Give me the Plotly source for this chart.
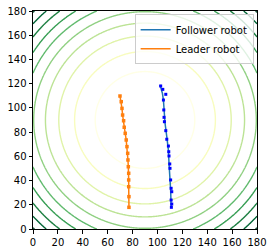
import numpy as np
import plotly.graph_objects as go

# Field: quadratic bowl centred on the target point
center_x = 90
center_y = 90
level_start = 1600
level_step = 1600
level_end = 16000

# Leader robot trajectory
leader_x = [69.9, 70.9, 71.5, 72.0, 72.8, 73.3, 74.1, 74.9, 75.5, 76.1, 76.3, 76.6, 76.9, 76.9, 76.9, 77.1, 77.1]
leader_y = [109.8, 105.1, 99.6, 94.1, 89.4, 84.0, 79.0, 73.5, 68.0, 62.5, 57.0, 51.4, 46.0, 40.5, 34.9, 26.7, 17.9]

# Follower robot trajectory
follower_x = [102.1, 104.0, 104.8, 105.3, 106.1, 107.5, 108.8, 109.3, 110.1, 110.6, 111.0]
follower_y = [118.9, 112.0, 106.5, 95.5, 87.3, 76.2, 65.2, 54.2, 43.2, 32.2, 18.4]

# Follower measured positions
meas_x = [102.6, 104.3, 106.7, 104.8, 105.1, 105.3, 105.6, 106.7, 107.5, 108.8, 109.1, 109.3, 109.9, 110.1, 110.6, 111.0, 111.5, 111.0, 111.5, 111.2]
meas_y = [118.1, 115.3, 111.2, 106.5, 98.3, 92.2, 88.6, 81.2, 74.1, 68.5, 63.8, 60.3, 53.7, 50.1, 40.5, 33.6, 30.8, 23.9, 20.6, 17.9]

ticks = [0, 20, 40, 60, 80, 100, 120, 140, 160, 180]

gx = np.linspace(0, 180, 241)
gy = np.linspace(0, 180, 241)
GX, GY = np.meshgrid(gx, gy)
Z = (GX - center_x) ** 2 + (GY - center_y) ** 2

fig = go.Figure()
fig.add_trace(go.Contour(
    x=gx, y=gy, z=Z,
    contours=dict(coloring="lines", start=level_start, end=level_end, size=level_step),
    colorscale="YlGn", zmin=-3200, zmax=19400,
    line=dict(width=1.4), showscale=False, showlegend=False, hoverinfo="skip",
))
fig.add_trace(go.Scatter(x=follower_x, y=follower_y, mode="lines", name="Follower robot",
                         line=dict(color="#1f77b4", width=1.5)))
fig.add_trace(go.Scatter(x=leader_x, y=leader_y, mode="lines", name="Leader robot",
                         line=dict(color="#ff7f0e", width=1.5)))
fig.add_trace(go.Scatter(x=meas_x, y=meas_y, mode="markers", showlegend=False,
                         marker=dict(color="#0000ff", size=3, symbol="square")))
fig.add_trace(go.Scatter(x=leader_x, y=leader_y, mode="markers", showlegend=False,
                         marker=dict(color="#ff7f0e", size=3.5, symbol="square")))

axis_common = dict(
    range=[0, 180], tickvals=ticks, showgrid=False, zeroline=False,
    showline=True, linecolor="black", linewidth=1, mirror=True,
    ticks="outside", ticklen=3.5, tickwidth=1, tickcolor="black",
    tickfont=dict(family="DejaVu Sans", size=10, color="black"),
    automargin=False,
)
fig.update_xaxes(**axis_common)
fig.update_yaxes(**axis_common)

fig.update_layout(
    width=273, height=252,
    margin=dict(l=33, r=16, t=11, b=23, pad=0, autoexpand=False),
    plot_bgcolor="white", paper_bgcolor="white",
    legend=dict(x=0.985, y=0.985, xanchor="right", yanchor="top",
                bgcolor="rgba(255,255,255,0.8)", bordercolor="#cccccc", borderwidth=1,
                font=dict(family="DejaVu Sans", size=10, color="black"),
                tracegroupgap=0, itemwidth=30),
)

fig.write_html(
    "out.html",
    config={"displayModeBar": False},
    post_script="document.body.style.margin='0';document.body.style.padding='0';document.body.style.overflow='hidden';",
)
